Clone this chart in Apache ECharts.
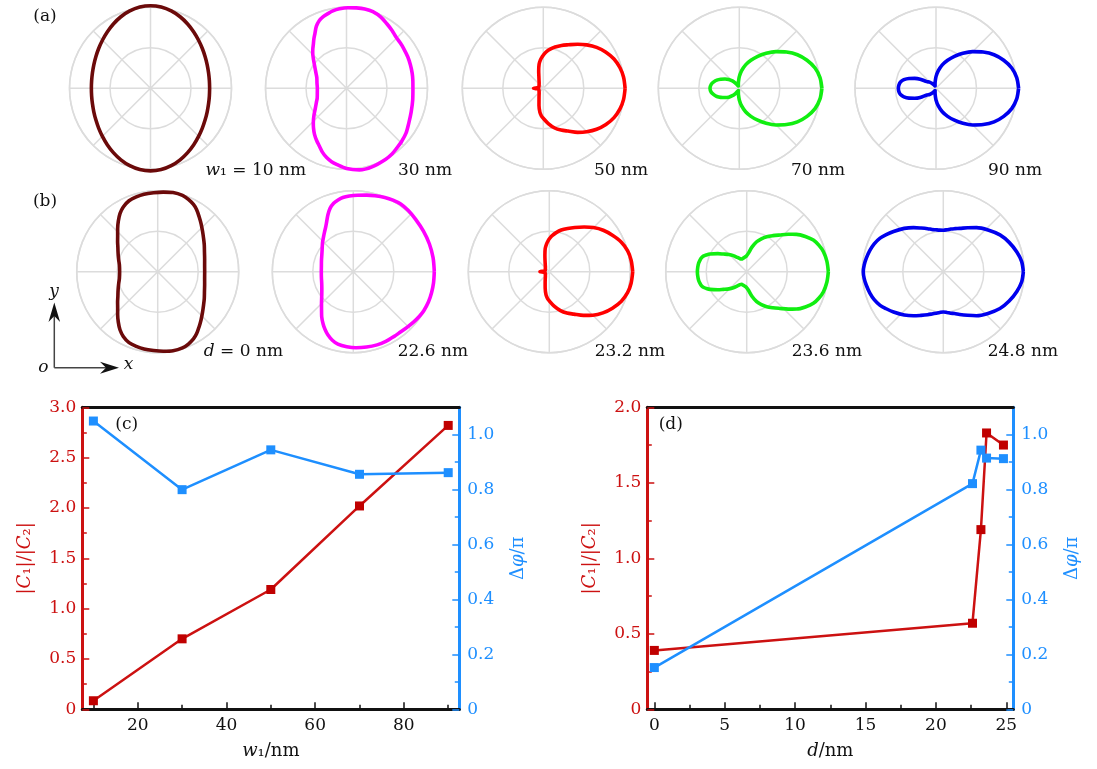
<!DOCTYPE html>
<html><head><meta charset="utf-8">
<script src="https://cdn.jsdelivr.net/npm/echarts@6/dist/echarts.min.js"></script>
<style>html,body{margin:0;padding:0;background:#fff}#c{width:1097px;height:769px}</style>
</head><body><div id="c"></div>
<script>
// ---------- DATA ----------
// radiation patterns: [angle (deg), normalised radius]
const patA10 = [[0,.73],[7.5,.733],[15,.742],[22.5,.7575],[30,.779],[37.5,.8066],[45,.8395],[52.5,.8768],[60,.9167],[67.5,.9557],[75,.989],[82.5,1.0118],[90,1.02],[97.5,1.0118],[105,.989],[112.5,.9557],[120,.9167],[127.5,.8768],[135,.8395],[142.5,.8066],[150,.779],[157.5,.7575],[165,.742],[172.5,.733],[180,.73],[187.5,.733],[195,.742],[202.5,.7575],[210,.779],[217.5,.8066],[225,.8395],[232.5,.8768],[240,.9167],[247.5,.9557],[255,.989],[262.5,1.0118],[270,1.02],[277.5,1.0118],[285,.989],[292.5,.9557],[300,.9167],[307.5,.8768],[315,.8395],[322.5,.8066],[330,.779],[337.5,.7575],[345,.742],[352.5,.733],[360,.73]];
const patA30 = [[0,.82],[7,.825],[13,.832],[20,.84],[27,.85],[35,.86],[40,.868],[46,.88],[52,.91],[58,.94],[64,.975],[71,1.0],[77,1.005],[83,1.0],[89,.995],[95,.985],[100,.97],[104,.95],[108,.93],[112,.9],[116,.85],[120,.78],[123.5,.73],[127,.68],[130.5,.64],[134,.6],[139,.54],[145,.48],[152,.43],[160,.39],[170,.37],[180,.36],[189,.365],[198,.38],[205,.41],[213,.46],[219.5,.52],[226,.59],[230.5,.64],[235,.69],[240,.74],[245,.79],[249.5,.845],[254,.89],[258.5,.925],[263,.95],[270,.99],[279,1.02],[288,1.02],[299,1.0],[305,.985],[310,.965],[316,.945],[323,.92],[331,.88],[340,.85],[350,.83],[360,.82]];
const patA50 = [[0,1.01],[8,1.0],[15,.98],[22.5,.945],[30,.893],[37.5,.83],[45,.758],[52,.69],[60,.62],[67,.575],[74,.53],[80,.49],[85,.455],[89,.42],[92,.39],[96,.35],[100,.30],[105,.22],[110,.16],[120,.105],[130,.08],[145,.064],[160,.057],[170,.058],[175,.075],[180,.12],[185,.075],[190,.058],[200,.057],[215,.064],[230,.08],[240,.105],[250,.155],[256,.22],[262,.30],[266,.34],[270,.37],[278,.44],[286,.51],[293,.56],[300,.61],[308,.69],[315,.758],[322.5,.83],[330,.893],[337.5,.945],[345,.98],[352,1.0],[360,1.01]];
const patA70 = [[0,1.02],[7.5,1.005],[15,.968],[22.5,.905],[30,.828],[37.5,.735],[45,.64],[52.5,.545],[60,.455],[67.5,.375],[75,.30],[82.5,.22],[90,.144],[97.5,.08],[105,.045],[112,.03],[120,.045],[127,.085],[133,.125],[140,.17],[147,.21],[154,.255],[160,.295],[166,.325],[172,.35],[180,.362],[188,.35],[194,.325],[200,.295],[206,.255],[213,.21],[220,.17],[227,.125],[233,.085],[240,.045],[248,.03],[255,.045],[262.5,.08],[270,.144],[277.5,.22],[285,.30],[292.5,.375],[300,.455],[307.5,.545],[315,.64],[322.5,.735],[330,.828],[337.5,.905],[345,.968],[352.5,1.005],[360,1.02]];
const patA90 = [[0,1.02],[7.5,1.005],[15,.968],[22.5,.905],[30,.828],[37.5,.735],[45,.64],[52.5,.545],[60,.455],[67.5,.375],[75,.30],[82.5,.22],[90,.144],[97.5,.08],[105,.045],[112,.03],[120,.045],[128,.075],[136,.11],[144,.14],[150,.225],[155,.29],[160,.355],[165,.41],[170,.445],[175,.46],[180,.465],[185,.46],[190,.445],[195,.41],[200,.355],[205,.29],[210,.225],[216,.14],[224,.11],[232,.075],[240,.045],[248,.03],[255,.045],[262.5,.08],[270,.144],[277.5,.22],[285,.30],[292.5,.375],[300,.455],[307.5,.545],[315,.64],[322.5,.735],[330,.828],[337.5,.905],[345,.968],[352.5,1.005],[360,1.02]];
const patB0 = [[0,.58],[8,.585],[15,.60],[22.5,.625],[30,.664],[36,.70],[42,.745],[48,.80],[53,.85],[58,.905],[62,.94],[67,.97],[72,.99],[79,.995],[86,.985],[93,.975],[100,.97],[106,.96],[112,.945],[118,.905],[123,.855],[128,.79],[133,.725],[138,.665],[143,.62],[148,.58],[153,.55],[158,.525],[164,.50],[170,.48],[180,.47],[190,.48],[196,.50],[202,.525],[207,.55],[212,.58],[217,.62],[222,.665],[227,.725],[232,.79],[237,.855],[242,.905],[248,.945],[254,.96],[260,.97],[267,.975],[274,.985],[281,.995],[288,.99],[293,.97],[298,.94],[302,.905],[307,.85],[312,.80],[318,.745],[324,.70],[330,.664],[337.5,.625],[345,.60],[352,.585],[360,.58]];
const patB226 = [[0,1.0],[10,1.0],[20,1.0],[30,1.0],[40,1.005],[48,1.015],[55,1.02],[61,1.01],[67,.995],[74,.975],[80,.96],[87,.945],[93,.935],[98,.925],[102,.905],[106,.88],[110,.835],[114,.77],[118,.70],[122,.645],[126,.605],[130,.57],[137,.52],[145,.47],[152,.44],[160,.418],[170,.40],[180,.395],[190,.40],[200,.415],[208,.44],[215,.475],[220,.51],[225,.555],[230,.61],[235,.68],[240,.745],[244,.795],[248,.84],[253,.885],[258,.915],[265,.93],[272,.94],[280,.945],[288,.95],[295,.95],[302,.945],[308,.945],[314,.955],[320,.97],[326,.985],[331,.995],[338,1.0],[345,1.0],[352,1.0],[360,1.0]];
const patB232 = [[0,1.03],[8,1.02],[15,1.0],[22.5,.96],[30,.90],[37.5,.84],[45,.77],[52,.70],[60,.63],[67,.58],[74,.535],[80,.49],[85,.45],[89,.415],[92,.385],[96,.34],[100,.29],[105,.21],[110,.155],[120,.10],[130,.075],[145,.06],[160,.053],[170,.055],[175,.07],[180,.115],[185,.07],[190,.055],[200,.053],[215,.06],[230,.075],[240,.10],[250,.15],[256,.21],[262,.29],[266,.33],[270,.36],[278,.43],[286,.50],[293,.555],[300,.605],[308,.685],[315,.76],[322.5,.835],[330,.90],[337.5,.96],[345,1.0],[352,1.02],[360,1.03]];
const patB236 = [[0,1.008],[7.5,.998],[14.6,.979],[20,.95],[25.4,.911],[31,.845],[36.8,.77],[42,.69],[47.9,.611],[54,.55],[60.2,.498],[66,.445],[71.6,.39],[78,.31],[85,.227],[91,.195],[98,.18],[105,.172],[111.7,.168],[117,.18],[123,.21],[129.8,.258],[136,.305],[142.9,.361],[148,.42],[154.3,.503],[157.5,.54],[160.2,.569],[163,.585],[166,.594],[170,.603],[175,.607],[180,.609],[185,.607],[190,.603],[194,.594],[197,.585],[199.8,.569],[202.5,.54],[205.7,.503],[212,.42],[217.1,.361],[224,.305],[230.2,.258],[237,.21],[243,.18],[248.3,.168],[255,.172],[262,.18],[269,.195],[275,.227],[282,.31],[288.4,.39],[294,.445],[299.8,.498],[306,.55],[312.1,.611],[318,.69],[323.2,.77],[329,.845],[334.6,.911],[340,.95],[345.4,.979],[352.5,.998],[360,1.008]];
const patB248 = [[0,.988],[7.5,.975],[15,.94],[24,.89],[33,.834],[43,.755],[53,.681],[61,.62],[69,.573],[75,.55],[80,.535],[85,.52],[90,.512],[95,.515],[100,.525],[105,.54],[110,.565],[117,.605],[124,.657],[132,.72],[141,.79],[147,.84],[152,.884],[158,.92],[164,.945],[170,.965],[175,.98],[180,.988],[185,.98],[190,.965],[196,.945],[202,.92],[208,.884],[213,.84],[219,.79],[228,.72],[236,.657],[243,.605],[250,.565],[255,.54],[260,.52],[265,.505],[270,.497],[275,.505],[280,.52],[285,.535],[291,.565],[299,.615],[307,.681],[317,.755],[327,.834],[336,.89],[345,.94],[352.5,.975],[360,.988]];

const labelsA = ['10 nm','30 nm','50 nm','70 nm','90 nm'];
const labelsB = ['0 nm','22.6 nm','23.2 nm','23.6 nm','24.8 nm'];

// panel (c)
const w1 = [10, 30, 50, 70, 90];
const ratioC = [0.085, 0.70, 1.19, 2.02, 2.82];
const phaseC = [1.05, 0.80, 0.945, 0.856, 0.862];
// panel (d)
const dVals = [0, 22.6, 23.2, 23.6, 24.8];
const ratioD = [0.39, 0.57, 1.19, 1.83, 1.75];
const phaseD = [0.152, 0.822, 0.944, 0.915, 0.913];

const xTicksC = [20, 40, 60, 80];
const xMinorC = [10, 30, 50, 70, 90];
const xTicksD = [0, 5, 10, 15, 20, 25];
const xMinorD = [2.5, 7.5, 12.5, 17.5, 22.5];
const phaseTicks = [0, 0.2, 0.4, 0.6, 0.8, 1.0];
const phaseMinor = [0.1, 0.3, 0.5, 0.7, 0.9];
const ratioMinorC = [0.25, 0.75, 1.25, 1.75, 2.25, 2.75];
const ratioMinorD = [0.25, 0.75, 1.25, 1.75];

// ---------- STYLE / LAYOUT ----------
const FONT = 'DejaVu Serif';
const RED = '#cc1111', RED_M = '#c00000', BLUE = '#1e8fff';
const R = 81;          // outer ring radius in px
const OVER = 1.3;      // data polar extends beyond the ring so strokes are not clipped
const GRAY = '#dcdcdc';
const panels = [
  {pat: patA10, c: [150.5, 88.3], color: '#6b0a0a'},
  {pat: patA30, c: [346.5, 88.3], color: '#ff00ff'},
  {pat: patA50, c: [543.3, 88.3], color: '#ff0000'},
  {pat: patA70, c: [739.3, 88.3], color: '#11ee11'},
  {pat: patA90, c: [936, 88.3], color: '#0000ee'},
  {pat: patB0, c: [157.7, 271.7], color: '#6b0a0a'},
  {pat: patB226, c: [353.3, 271.7], color: '#ff00ff'},
  {pat: patB232, c: [549.3, 271.7], color: '#ff0000'},
  {pat: patB236, c: [746.7, 271.7], color: '#11ee11'},
  {pat: patB248, c: [943.3, 271.7], color: '#0000ee'}
];

const polar = [], angleAxis = [], radiusAxis = [], series = [];
panels.forEach((p, i) => {
  const gIdx = 2 * i, dIdx = 2 * i + 1;
  polar.push({center: p.c, radius: R});
  angleAxis.push({polarIndex: gIdx, type: 'value', min: 0, max: 360, interval: 45, startAngle: 0, clockwise: false,
    axisLine: {lineStyle: {color: GRAY, width: 1.5}}, axisTick: {show: false}, axisLabel: {show: false},
    splitLine: {lineStyle: {color: GRAY, width: 1.5}}});
  radiusAxis.push({polarIndex: gIdx, type: 'value', min: 0, max: 1, interval: 0.5,
    axisLine: {show: false}, axisTick: {show: false}, axisLabel: {show: false},
    splitLine: {lineStyle: {color: GRAY, width: 1.5}}});
  polar.push({center: p.c, radius: R * OVER});
  angleAxis.push({polarIndex: dIdx, type: 'value', min: 0, max: 360, startAngle: 0, clockwise: false,
    axisLine: {show: false}, axisTick: {show: false}, axisLabel: {show: false}, splitLine: {show: false}});
  radiusAxis.push({polarIndex: dIdx, type: 'value', min: 0, max: OVER,
    axisLine: {show: false}, axisTick: {show: false}, axisLabel: {show: false}, splitLine: {show: false}});
  series.push({type: 'line', coordinateSystem: 'polar', polarIndex: dIdx, clip: false,
    data: p.pat.map(a => [a[1], a[0]]), smooth: 0.3, symbol: 'none',
    lineStyle: {color: p.color, width: 3.6, join: 'round'}, z: 5});
});

const txt = (color) => ({fontFamily: FONT, fontSize: 17, color: color});
function xMain(gi, min, max, ticks, name) {
  return {gridIndex: gi, type: 'value', min, max, position: 'bottom',
    axisLine: {onZero: false, lineStyle: {color: '#111', width: 3}},
    axisTick: {inside: true, length: 7, customValues: ticks, lineStyle: {color: '#111', width: 1.5}},
    axisLabel: {customValues: ticks, margin: 8, ...txt('#111')},
    splitLine: {show: false},
    name, nameLocation: 'middle', nameGap: 33,
    nameTextStyle: {fontFamily: FONT, fontSize: 18, color: '#111',
      rich: {i: {fontFamily: FONT, fontSize: 18, fontStyle: 'italic', color: '#111'}, n: {fontFamily: FONT, fontSize: 18, color: '#111'}}}};
}
function xMinor(gi, min, max, ticks) {
  return {gridIndex: gi, type: 'value', min, max, position: 'bottom',
    axisLine: {show: false, onZero: false}, axisLabel: {show: false}, splitLine: {show: false},
    axisTick: {inside: true, length: 4.5, customValues: ticks, lineStyle: {color: '#111', width: 1.5}}};
}
function xTop(gi, min, max) {
  return {gridIndex: gi, type: 'value', min, max, position: 'top',
    axisLine: {onZero: false, lineStyle: {color: '#111', width: 3}}, axisLabel: {show: false},
    axisTick: {show: false}, splitLine: {show: false}};
}
const ratioName = '{n||}{i|C}{n|₁|/|}{i|C}{n|₂|}';
const phaseName = '{n|Δ}{i|φ}{n|/π}';
function richName(color) {
  return {fontFamily: FONT, fontSize: 18, color,
    rich: {i: {fontFamily: FONT, fontSize: 18, fontStyle: 'italic', color}, n: {fontFamily: FONT, fontSize: 18, color}}};
}
const fmt = v => v === 0 ? '0' : v.toFixed(1);
function yLeft(gi, max) {
  return {gridIndex: gi, type: 'value', min: 0, max, interval: 0.5, position: 'left',
    axisLine: {show: true, onZero: false, lineStyle: {color: RED, width: 3}},
    axisTick: {show: true, inside: true, length: 7, lineStyle: {color: RED, width: 1.5}},
    axisLabel: {formatter: fmt, margin: 6, ...txt(RED)},
    splitLine: {show: false},
    name: ratioName, nameLocation: 'middle', nameRotate: 90, nameGap: 48, nameTextStyle: richName(RED)};
}
function yLeftMinor(gi, max, ticks) {
  return {gridIndex: gi, type: 'value', min: 0, max, position: 'left',
    axisLine: {show: false, onZero: false}, axisLabel: {show: false}, splitLine: {show: false},
    axisTick: {show: true, inside: true, length: 4.5, customValues: ticks, lineStyle: {color: RED, width: 1.5}}};
}
function yRight(gi) {
  return {gridIndex: gi, type: 'value', min: 0, max: 1.1, position: 'right',
    axisLine: {show: true, onZero: false, lineStyle: {color: BLUE, width: 3}},
    axisTick: {show: true, inside: true, length: 7, customValues: phaseTicks, lineStyle: {color: BLUE, width: 1.5}},
    axisLabel: {customValues: phaseTicks, formatter: fmt, margin: 8, ...txt(BLUE)},
    splitLine: {show: false},
    name: phaseName, nameLocation: 'middle', nameRotate: 90, nameGap: 50, nameTextStyle: richName(BLUE)};
}
function yRightMinor(gi) {
  return {gridIndex: gi, type: 'value', min: 0, max: 1.1, position: 'right',
    axisLine: {show: false, onZero: false}, axisLabel: {show: false}, splitLine: {show: false},
    axisTick: {show: true, inside: true, length: 4.5, customValues: phaseMinor, lineStyle: {color: BLUE, width: 1.5}}};
}

const xAxis = [
  xMain(0, 7.5, 92.5, xTicksC, '{i|w}{n|₁/nm}'), xMinor(0, 7.5, 92.5, xMinorC), xTop(0, 7.5, 92.5),
  xMain(1, -0.5, 25.5, xTicksD, '{i|d}{n|/nm}'), xMinor(1, -0.5, 25.5, xMinorD), xTop(1, -0.5, 25.5)
];
const yAxis = [
  yLeft(0, 3), yLeftMinor(0, 3, ratioMinorC), yRight(0), yRightMinor(0),
  yLeft(1, 2), yLeftMinor(1, 2, ratioMinorD), yRight(1), yRightMinor(1)
];

function lineSeries(xs, ys, xi, yi, lc, mc) {
  return {type: 'line', xAxisIndex: xi, yAxisIndex: yi, data: xs.map((x, k) => [x, ys[k]]),
    symbol: 'rect', symbolSize: 9, lineStyle: {color: lc, width: 2.5}, itemStyle: {color: mc}, z: 4};
}
series.push(lineSeries(w1, ratioC, 0, 0, RED, RED_M));
series.push(lineSeries(w1, phaseC, 0, 2, BLUE, BLUE));
series.push(lineSeries(dVals, ratioD, 3, 4, RED, RED_M));
series.push(lineSeries(dVals, phaseD, 3, 6, BLUE, BLUE));

// ---------- TEXT / DECORATION ----------
const richLbl = {i: {fontFamily: FONT, fontSize: 17, fontStyle: 'italic', fill: '#111'}, n: {fontFamily: FONT, fontSize: 17, fill: '#111'}};
function label(text, x, y, align) {
  return {type: 'text', x, y, z: 10, style: {text, rich: richLbl, font: '17px "' + FONT + '"', fill: '#111', align: align || 'center', verticalAlign: 'middle'}};
}
const rightA = [306, 452, 648, 845, 1042];
const rightB = [283, 468, 665, 862, 1058];
const graphic = [
  label('{n|(a)}', 45, 16.7), label('{n|(b)}', 45, 201.7),
  label('{n|(c)}', 126.7, 425), label('{n|(d)}', 670.8, 425)
];
labelsA.forEach((t, i) => graphic.push(label(i === 0 ? '{i|w}{n|₁ = ' + t + '}' : '{n|' + t + '}', rightA[i], 171, 'right')));
labelsB.forEach((t, i) => graphic.push(label(i === 0 ? '{i|d}{n| = ' + t + '}' : '{n|' + t + '}', rightB[i], 352, 'right')));
graphic.push({type: 'line', z: 10, shape: {x1: 54.3, y1: 367.7, x2: 54.3, y2: 314}, style: {stroke: '#444', lineWidth: 1.5}});
graphic.push({type: 'line', z: 10, shape: {x1: 54.3, y1: 367.7, x2: 108, y2: 367.7}, style: {stroke: '#444', lineWidth: 1.5}});
graphic.push({type: 'polygon', z: 11, shape: {points: [[54.3, 302.5], [48.5, 322], [54.3, 316], [60.1, 322]]}, style: {fill: '#111'}});
graphic.push({type: 'polygon', z: 11, shape: {points: [[119, 367.7], [100, 361.7], [106, 367.7], [100, 373.7]]}, style: {fill: '#111'}});
graphic.push(label('{i|y}', 54, 292));
graphic.push(label('{i|x}', 128.5, 365));
graphic.push(label('{i|o}', 43.3, 368));

const chart = echarts.init(document.getElementById('c'), null, {renderer: 'canvas'});
chart.setOption({
  animation: false,
  backgroundColor: '#fff',
  polar, angleAxis, radiusAxis,
  grid: [
    {left: 82.3, top: 407.3, width: 377, height: 302, outerBoundsMode: 'none'},
    {left: 647.3, top: 407.3, width: 366, height: 302, outerBoundsMode: 'none'}
  ],
  xAxis, yAxis, series, graphic
});
</script></body></html>
